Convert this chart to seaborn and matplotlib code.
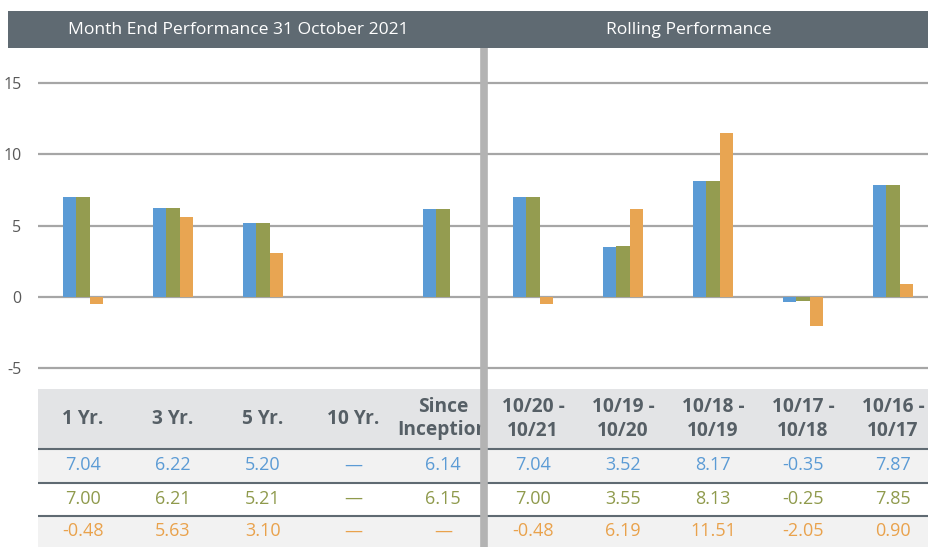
import numpy as np
import pandas as pd
import matplotlib.pyplot as plt
from matplotlib.patches import Rectangle
import seaborn as sns

# Performance data (%), NaN = not available
periods = ["1 Yr.", "3 Yr.", "5 Yr.", "10 Yr.", "Since\nInception",
           "10/20 -\n10/21", "10/19 -\n10/20", "10/18 -\n10/19",
           "10/17 -\n10/18", "10/16 -\n10/17"]
fund = [7.04, 6.22, 5.20, np.nan, 6.14, 7.04, 3.52, 8.17, -0.35, 7.87]
benchmark = [7.00, 6.21, 5.21, np.nan, 6.15, 7.00, 3.55, 8.13, -0.25, 7.85]
category = [-0.48, 5.63, 3.10, np.nan, np.nan, -0.48, 6.19, 11.51, -2.05, 0.90]
series = ["Fund", "Benchmark", "Category"]
colors = ["#5b9bd5", "#949c50", "#e8a552"]
text_colors = ["#5b9bd5", "#8f9a4c", "#e9a24c"]
titles = ["Month End Performance 31 October 2021", "Rolling Performance"]

sns.set_theme(style="white")
plt.rcParams["font.family"] = ["Open Sans", "DejaVu Sans"]
plt.rcParams["axes.unicode_minus"] = False

df = pd.DataFrame({"period": periods, "Fund": fund,
                   "Benchmark": benchmark, "Category": category})
long = df.melt(id_vars="period", var_name="series", value_name="value").dropna()

W, H = 929, 547
fig = plt.figure(figsize=(W / 100, H / 100), dpi=100)


def frame(x0, y0, x1, y1):
    # pixel box (top-left origin) -> figure fraction rect
    return [x0 / W, 1 - y1 / H, (x1 - x0) / W, (y1 - y0) / H]


sep_x = 4.46
sep_color = "#b3b3b3"

# header bar
fig.add_artist(Rectangle((8 / W, 1 - 48 / H), (W - 8) / W, 37 / H,
                         transform=fig.transFigure, color="#5f6a72", lw=0))
fig.text(238 / W, 1 - 30 / H, titles[0], color="white", fontsize=12.6,
         ha="center", va="center")
fig.text(689 / W, 1 - 30 / H, titles[1], color="white", fontsize=12.6,
         ha="center", va="center")

# bar chart
ax = fig.add_axes(frame(38, 48, 929, 389))
sns.barplot(data=long, x="period", y="value", hue="series", order=periods,
            hue_order=series, palette=colors, saturation=1, width=0.45,
            linewidth=0, legend=False, errorbar=None, ax=ax)
ax.set_xlim(-0.5, 9.4)
ax.set_ylim(-6.46, 17.47)
ax.set_yticks([-5, 0, 5, 10, 15])
ax.set_xticks([])
ax.set_xlabel("")
ax.set_ylabel("")
ax.yaxis.grid(True, color="#a6a6a6", lw=1.6)
ax.set_axisbelow(True)
for s in ax.spines.values():
    s.set_visible(False)
ax.tick_params(axis="y", length=0, pad=12, labelsize=11.5, labelcolor="#595959")
ax.axvline(sep_x, color=sep_color, lw=5.5, zorder=5)

# table below the chart
tax = fig.add_axes(frame(38, 389, 929, 547))
tax.set_xlim(-0.5, 9.4)
tax.set_ylim(158, 0)
tax.axis("off")
tax.axhspan(0, 59, color="#e3e4e6", lw=0)
tax.axhspan(59, 93, color="#f2f2f2", lw=0)
tax.axhspan(93, 126, color="white", lw=0)
tax.axhspan(126, 158, color="#f2f2f2", lw=0)
for yl in [59.5, 93.5, 126.5]:
    tax.axhline(yl, color="#5f6a72", lw=1.5)
tax.axvline(sep_x, color=sep_color, lw=5.5, zorder=5)

left_clip = Rectangle((-0.5, 0), sep_x + 0.5, 158, transform=tax.transData)
for i, p in enumerate(periods):
    t = tax.text(i, 30, p, ha="center", va="center", fontsize=13.8,
                 fontweight="bold", color="#565f66", linespacing=1.2)
    if i < 5:
        t.set_clip_path(left_clip)

row_y = [76.5, 110, 142.5]
for vals, col, y in zip([fund, benchmark, category], text_colors, row_y):
    for i, v in enumerate(vals):
        label = "\u2014" if np.isnan(v) else f"{v:.2f}"
        tax.text(i, y, label, ha="center", va="center", fontsize=13, color=col)

fig.savefig("out.png", dpi=100)
